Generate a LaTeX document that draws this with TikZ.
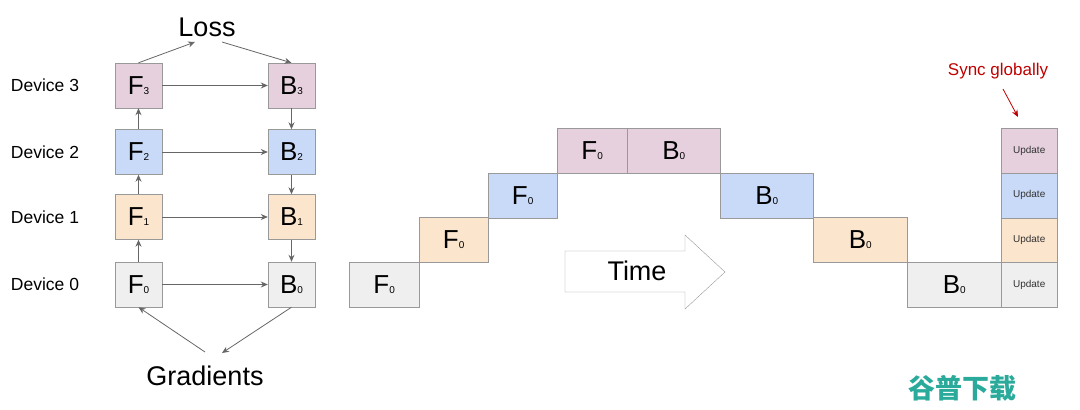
\documentclass[tikz,border=0pt]{standalone}
\usepackage{fontspec}
\setmainfont{Liberation Sans}
\newfontfamily\cjk{Noto Sans CJK SC}
\usetikzlibrary{arrows.meta,positioning,calc}
\definecolor{cpink}{HTML}{E6D0DE}
\definecolor{cblue}{HTML}{C9DAF8}
\definecolor{corange}{HTML}{FCE5CD}
\definecolor{cgray}{HTML}{EFEFEF}
\definecolor{cline}{HTML}{999999}
\definecolor{carrow}{HTML}{666666}
\definecolor{cred}{HTML}{C00000}
\definecolor{cwm}{HTML}{2AAA9A}
\newcommand{\lbl}[2]{#1{\fontsize{10}{10}\selectfont#2}}
\tikzset{
  blk/.style={draw=cline,fill=#1,minimum width=47pt,minimum height=45pt,inner sep=0pt,
    font=\fontsize{26}{26}\selectfont},
  seg/.style={draw=cline,fill=#1,inner sep=0pt,font=\fontsize{26}{26}\selectfont},
  dev/.style={font=\fontsize{17.5}{17.5}\selectfont},
  link/.style={carrow,thick,-{Stealth[length=7pt,width=6pt]}}
}
\begin{document}
\begin{tikzpicture}[x=1pt,y=-1pt]
  \useasboundingbox (0,0) rectangle (1080,410);

  % --- left: one step of the pipeline ---
  \foreach \i/\c/\y in {0/cgray/284.5,1/corange/217,2/cblue/152,3/cpink/85.5}{
    \node[blk=\c] (f\i) at (138.5,\y) {\lbl{F}{\i}};
    \node[blk=\c] (b\i) at (291.5,\y) {\lbl{B}{\i}};
    \node[dev] (d\i) at (45,\y) {Device \i};
    \draw[link] (f\i) -- (b\i);
  }
  \foreach \a/\b in {0/1,1/2,2/3}{
    \draw[link] (f\a) -- (f\b);
    \draw[link] (b\b) -- (b\a);
  }
  \node[font=\fontsize{27}{27}\selectfont] (loss) at (207,27) {Loss};
  \node[font=\fontsize{27}{27}\selectfont] (grad) at (205,376) {Gradients};
  \draw[link] (f3.north) -- (195,42);
  \draw[link] (222,42) -- (b3.north);
  \draw[link] (205,352) -- (f0.south);
  \draw[link] (b0.south) -- (222,353);

  % --- right: timeline ---
  \foreach \n/\c/\xa/\xb/\ya/\t in {
      a/cgray/349/419/262/F, b/corange/419/488/217/F,
      c/cblue/488/557/173/F, d/cpink/557/627/128/F,
      e/cpink/627/720/128/B, g/cblue/720/813/173/B,
      h/corange/813/907/217/B, k/cgray/907/1001/262/B}{
    \node[seg=\c,minimum width={\xb-\xa},minimum height=45pt,anchor=north west]
      (s\n) at (\xa,\ya) {\lbl{\t}{0}};
  }
  \foreach \c [count=\j from 0] in {cpink,cblue,corange,cgray}{
    \node[seg=\c,minimum width=56pt,minimum height=44.75pt,anchor=north west,
      font=\fontsize{10}{10}\selectfont,text=black!80] (u\j) at (1001,128+\j*44.75) {Update};
  }
  \draw[cline,fill=white] (565,251) -- (685,251) -- (685,235) -- (725,272)
    -- (685,309) -- (685,292) -- (565,292) -- cycle;
  \node[font=\fontsize{27}{27}\selectfont] (tlbl) at (637,271) {Time};

  \node[text=cred,font=\fontsize{17}{17}\selectfont] (sync) at (998,71) {Sync globally};
  \draw[cred,thick,-{Stealth[length=7pt,width=6pt]}] (1003,89) -- (1018,117);

  \node[text=cwm,font=\cjk\bfseries\fontsize{27}{27}\selectfont] (wm) at (962,388) {谷普下载};
\end{tikzpicture}
\end{document}
